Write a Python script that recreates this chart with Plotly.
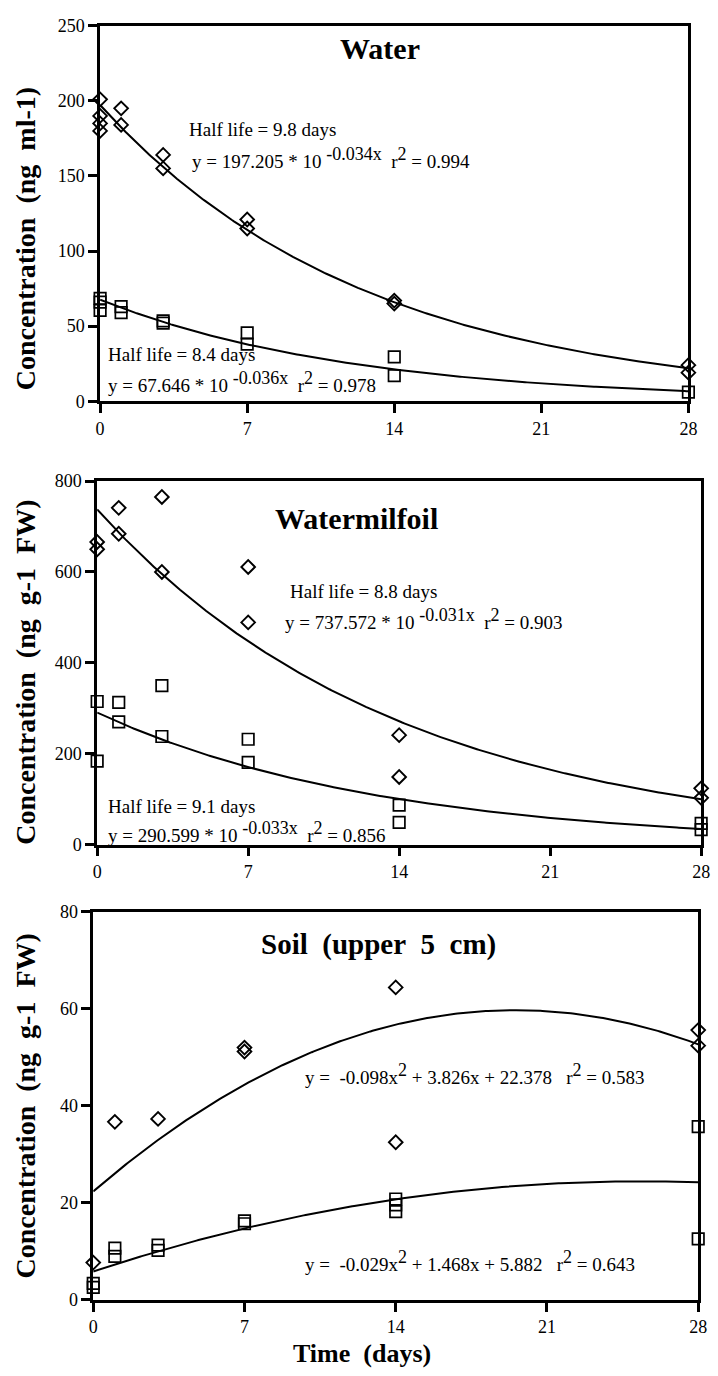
import numpy as np
import plotly.graph_objects as go

# ---------------- data ----------------
days_ticks = [0, 7, 14, 21, 28]

water_days_d = [0, 0, 0, 0, 1, 1, 3, 3, 7, 7, 14, 14, 28, 28]
water_diamond = [201, 190, 185, 180, 195, 184, 164, 155, 121, 115, 67, 65, 24, 19]
water_days_s = [0, 0, 0, 1, 1, 3, 3, 7, 7, 14, 14, 28]
water_square = [68.5, 66, 60.5, 63, 59, 53.5, 52, 45.5, 38, 29.5, 17, 6]

milfoil_days_d = [0, 0, 1, 1, 3, 3, 7, 7, 14, 14, 28, 28]
milfoil_diamond = [666, 650, 741, 684, 765, 600, 611, 489, 241, 149, 124, 103]
milfoil_days_s = [0, 0, 1, 1, 3, 3, 7, 7, 14, 14, 28, 28]
milfoil_square = [315, 184, 313, 270, 350, 238, 232, 181, 87, 49, 47, 33]

soil_days_d = [0, 1, 3, 7, 7, 14, 14, 28, 28]
soil_diamond = [7.7, 36.7, 37.3, 52.0, 51.2, 64.4, 32.5, 55.6, 52.4]
soil_days_s = [0, 0, 1, 1, 3, 3, 7, 7, 14, 14, 14, 28, 28]
soil_square = [3.4, 2.6, 10.7, 9.0, 11.3, 10.2, 16.3, 15.7, 20.8, 19.6, 18.2, 35.7, 12.6]

# fitted-curve coefficients as printed on the chart
water_fit_a = [197.205, 67.646]
water_fit_k = [-0.034, -0.036]
milfoil_fit_a = [737.572, 290.599]
milfoil_fit_k = [-0.031, -0.033]
soil_fit_abc = [[-0.098, 3.826, 22.378], [-0.029, 1.468, 5.882]]

# ---------------- figure ----------------
W, H = 718, 1376
SERIF = "Liberation Serif"
TXT = 19
fig = go.Figure()

def px_x(a, b):
    return [a / W, b / W]

def px_y(top, bottom):
    return [1 - bottom / H, 1 - top / H]

panels = [
    dict(x=px_x(97, 697), y=px_y(16, 397), yr=[0, 250], yt=[0, 50, 100, 150, 200, 250]),
    dict(x=px_x(94, 710), y=px_y(478, 847), yr=[0, 800], yt=[0, 200, 400, 600, 800]),
    dict(x=px_x(90, 707), y=px_y(915, 1309), yr=[0, 80], yt=[0, 20, 40, 60, 80]),
]

xs = np.linspace(0, 28, 300)
curves = [
    [a * 10 ** (k * xs) for a, k in zip(water_fit_a, water_fit_k)],
    [a * 10 ** (k * xs) for a, k in zip(milfoil_fit_a, milfoil_fit_k)],
    [a * xs ** 2 + b * xs + c for a, b, c in soil_fit_abc],
]
points = [
    (water_days_d, water_diamond, water_days_s, water_square),
    (milfoil_days_d, milfoil_diamond, milfoil_days_s, milfoil_square),
    (soil_days_d, soil_diamond, soil_days_s, soil_square),
]

for i, (p, cv, pts) in enumerate(zip(panels, curves, points), start=1):
    xa = "x" if i == 1 else f"x{i}"
    ya = "y" if i == 1 else f"y{i}"
    for c in cv:
        fig.add_trace(go.Scatter(x=xs, y=c, mode="lines", xaxis=xa, yaxis=ya,
                                 line=dict(color="black", width=2), showlegend=False,
                                 hoverinfo="skip"))
    dx, dy, sx, sy = pts
    fig.add_trace(go.Scatter(x=dx, y=dy, mode="markers", xaxis=xa, yaxis=ya, cliponaxis=False,
                             marker=dict(symbol="diamond-open", size=10.5, color="black",
                                         line=dict(width=1.9, color="black")),
                             showlegend=False))
    fig.add_trace(go.Scatter(x=sx, y=sy, mode="markers", xaxis=xa, yaxis=ya, cliponaxis=False,
                             marker=dict(symbol="square-open", size=11.5, color="black",
                                         line=dict(width=1.7, color="black")),
                             showlegend=False))
    axis_common = dict(showline=True, linecolor="black", linewidth=2.5, mirror=True,
                       ticks="outside", ticklen=9, tickwidth=2.5, tickcolor="black",
                       showgrid=False, zeroline=False,
                       tickfont=dict(family=SERIF, size=18, color="black"))
    fig.layout[f"xaxis{'' if i == 1 else i}"] = dict(
        domain=p["x"], anchor=ya, range=[0, 28], tickvals=days_ticks, **axis_common)
    fig.layout[f"yaxis{'' if i == 1 else i}"] = dict(
        domain=p["y"], anchor=xa, range=p["yr"], tickvals=p["yt"], **axis_common)

def note(text, x, y, ref, size=TXT, bold=False, xanchor="left"):
    fig.add_annotation(text=f"<b>{text}</b>" if bold else text, x=x, y=y,
                       xref=f"x{ref}" if ref > 1 else "x", yref=f"y{ref}" if ref > 1 else "y",
                       xanchor=xanchor, yanchor="middle", showarrow=False,
                       font=dict(family=SERIF, size=size, color="black"))

sp = "\u00a0"

def sup(t):
    return f"<sup><span style='font-size:{TXT - 1}px'>{t}</span></sup>"

# panel 1
note("Water", 13.3, 235, 1, size=30, bold=True, xanchor="center")
note("Half life = 9.8 days", 4.15, 181, 1)
note(f"y = 197.205 * 10 {sup('-0.034x')}{sp}{sp}r{sup('2')} = 0.994", 4.3, 162, 1)
note("Half life = 8.4 days", 0.28, 31, 1)
note(f"y = 67.646 * 10 {sup('-0.036x')}{sp}{sp}r{sup('2')} = 0.978", 0.28, 13, 1)
# panel 2
note("Watermilfoil", 12.0, 718, 2, size=30, bold=True, xanchor="center")
note("Half life = 8.8 days", 8.85, 556, 2)
note(f"y = 737.572 * 10 {sup('-0.031x')}{sp}{sp}r{sup('2')} = 0.903", 8.6, 496, 2)
note("Half life = 9.1 days", 0.42, 84, 2)
note(f"y = 290.599 * 10 {sup('-0.033x')}{sp}{sp}r{sup('2')} = 0.856", 0.42, 29, 2)
# panel 3
note(f"Soil{sp}{sp}(upper{sp}{sp}5{sp}{sp}cm)", 13.2, 73.2, 3, size=29, bold=True, xanchor="center")
note(f"y ={sp}{sp}-0.098x{sup('2')} + 3.826x + 22.378{sp}{sp}{sp}r{sup('2')} = 0.583", 9.7, 46.6, 3)
note(f"y ={sp}{sp}-0.029x{sup('2')} + 1.468x + 5.882{sp}{sp}{sp}r{sup('2')} = 0.643", 9.7, 8.0, 3)

# axis titles (paper coordinates)
ytitles = [(f"Concentration{sp}{sp}(ng{sp}{sp}ml-1)", 232),
           (f"Concentration{sp}{sp}(ng{sp}{sp}g-1{sp}{sp}FW)", 672),
           (f"Concentration{sp}{sp}(ng{sp}{sp}g-1{sp}{sp}FW)", 1112)]
for t, yc in ytitles:
    fig.add_annotation(text=f"<b>{t}</b>", x=21 / W, y=1 - yc / H, xref="paper", yref="paper",
                       xanchor="center", yanchor="middle", textangle=-90, showarrow=False,
                       font=dict(family=SERIF, size=28, color="black"))
fig.add_annotation(text=f"<b>Time{sp}{sp}(days)</b>", x=364 / W, y=1 - 1363 / H,
                   xref="paper", yref="paper", xanchor="center", yanchor="middle",
                   showarrow=False, font=dict(family=SERIF, size=26, color="black"))

fig.update_layout(width=W, height=H, margin=dict(l=0, r=0, t=0, b=0),
                  paper_bgcolor="white", plot_bgcolor="white", showlegend=False)

fig.write_html("out.html")
